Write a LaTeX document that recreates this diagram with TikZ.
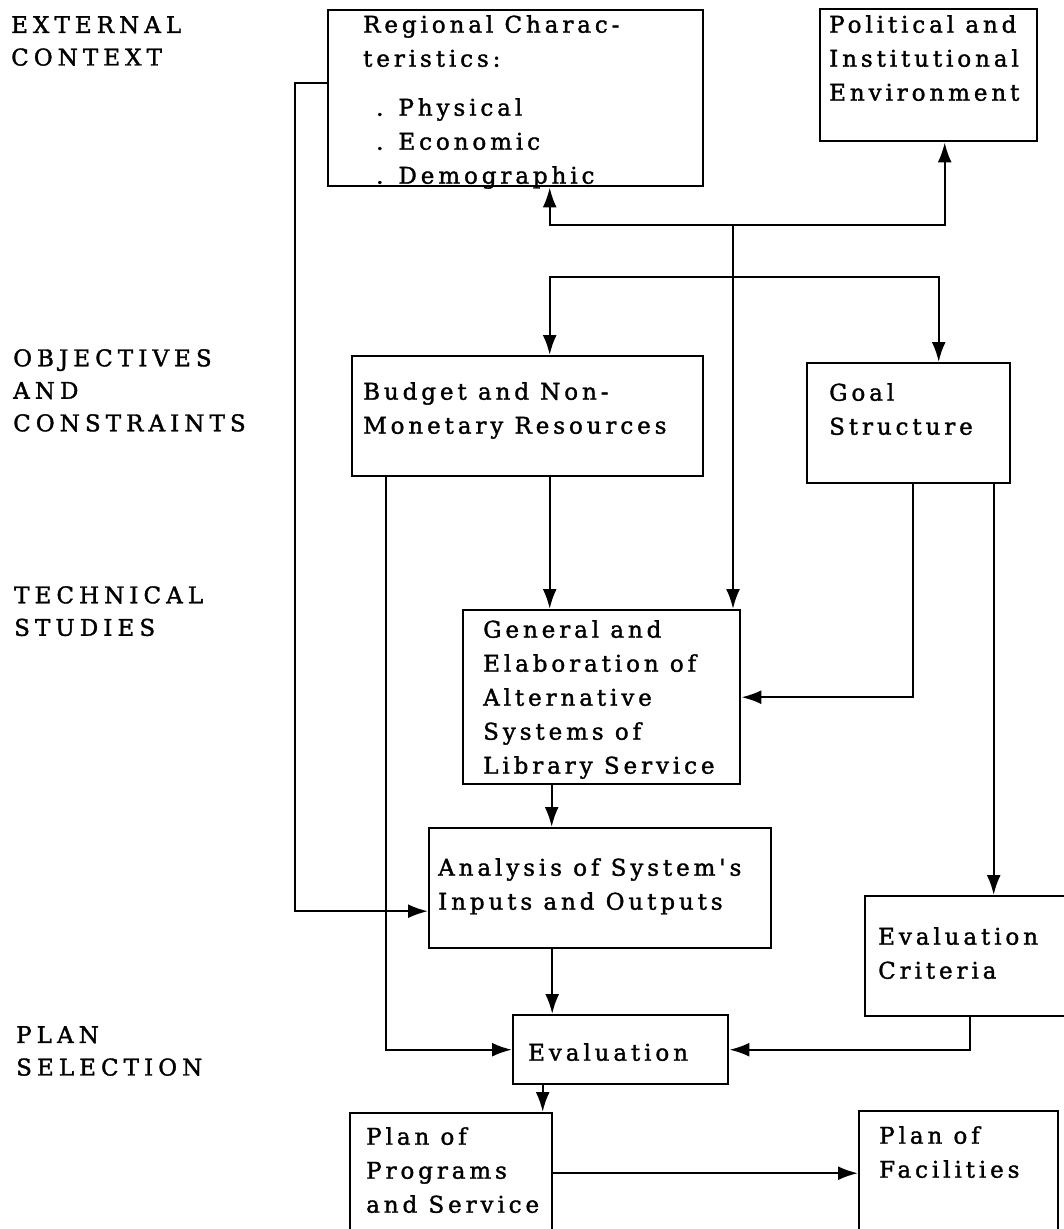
\documentclass[tikz,border=0pt]{standalone}
\usepackage{fontspec}
\usetikzlibrary{arrows.meta}

\newfontfamily\boxfont[LetterSpace=17, FakeBold=1.5]{DejaVu Serif}
\newfontfamily\labfont[LetterSpace=22, FakeBold=1.5]{DejaVu Serif}
% width, height, left inset, top inset, text
\newcommand{\boxtext}[5]{\parbox[t][#2][t]{#1}{\raggedright\leftskip=#3\relax\vspace*{#4}#5}}

\begin{document}
\begin{tikzpicture}[x=1pt, y=-1pt, line width=2.4pt, >={Latex[length=20pt, width=14pt]},
  box/.style = {draw, anchor=north west, inner sep=0pt, font=\boxfont\fontsize{23}{34}\selectfont},
  lab/.style = {anchor=north west, inner sep=0pt, align=left, font=\labfont\fontsize{23}{32.5}\selectfont}]
\useasboundingbox (0,0) rectangle (1064,1229);

% stage labels
\node[lab] (ext)  at (10,15)   {EXTERNAL\\CONTEXT};
\node[lab] (obj)  at (12,348)  {OBJECTIVES\\AND\\CONSTRAINTS};
\node[lab] (tech) at (13,585)  {TECHNICAL\\STUDIES};
\node[lab] (sel)  at (15,1025) {PLAN\\SELECTION};

% boxes
\node[box] (reg)  at (327,9)    {\boxtext{375pt}{176pt}{35pt}{5pt}{Regional Charac-\\teristics:\\[15pt]\hspace*{13pt}. Physical\\\hspace*{13pt}. Economic\\\hspace*{13pt}. Demographic}};
\node[box] (pol)  at (819,8)    {\boxtext{217pt}{132pt}{9pt}{6pt}{Political and\\Institutional\\Environment}};
\node[box] (bud)  at (351,355)  {\boxtext{351pt}{120pt}{11pt}{26pt}{Budget and Non-\\Monetary Resources}};
\node[box] (goal) at (806,362)  {\boxtext{203pt}{120pt}{22pt}{20pt}{Goal\\Structure}};
\node[box] (gen)  at (462,609)  {\boxtext{277pt}{174pt}{20pt}{10pt}{General and\\Elaboration of\\Alternative\\Systems of\\Library Service}};
\node[box] (ana)  at (428,827)  {\boxtext{342pt}{120pt}{9pt}{30pt}{Analysis of System's\\Inputs and Outputs}};
\node[box] (crit) at (864,895)  {\boxtext{210pt}{120pt}{13pt}{31pt}{Evaluation\\Criteria}};
\node[box] (eval) at (512,1014) {\boxtext{215pt}{69pt}{15pt}{28pt}{Evaluation}};
\node[box] (prog) at (349,1112) {\boxtext{202pt}{120pt}{16pt}{14pt}{Plan of\\Programs\\and Service}};
\node[box] (fac)  at (858,1110) {\boxtext{199pt}{124pt}{20pt}{15pt}{Plan of\\Facilities}};

% branch points
\coordinate (ctx)   at (733,225);
\coordinate (split) at (733,277);
\coordinate (b1) at ([xshift=22pt]bud.south);
\coordinate (b2) at ([xshift=-142pt]bud.south);
\coordinate (g1) at ([xshift=4pt]goal.south);
\coordinate (g2) at ([xshift=85pt]goal.south);
\coordinate (e1) at ([xshift=-50pt]gen.south);
\coordinate (a1) at ([xshift=-48pt]ana.south);
\coordinate (v1) at ([xshift=-78pt]eval.south);

% external context
\draw[->] (ctx) -| ([xshift=34pt]reg.south);
\draw[->] (ctx) -| ([xshift=16pt]pol.south);
\draw[->] (ctx) -- (ctx |- gen.north);
\draw[->] ([yshift=-74pt]reg.north west) -- ++(-32,0) |- ([yshift=-23pt]ana.west);

% objectives and constraints
\draw[->] (split) -| ([xshift=22pt]bud.north);
\draw[->] (split) -| ([xshift=30pt]goal.north);
\draw[->] (b1) -- (b1 |- gen.north);
\draw[->] (b2) |- (eval.west);
\draw[->] (g1) |- (gen.east);
\draw[->] (g2) -- (g2 |- crit.north);

% technical studies
\draw[->] (e1) -- (e1 |- ana.north);
\draw[->] (a1) -- (a1 |- eval.north);

% plan selection
\draw[->] (crit.south) |- (eval.east);
\draw[->] (v1) -- (v1 |- prog.north);
\draw[->] (prog.east) -- (prog.east -| fac.west);

\end{tikzpicture}
\end{document}
